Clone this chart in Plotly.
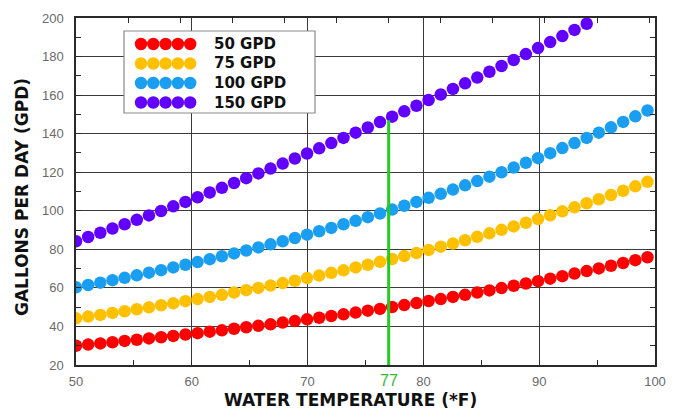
import plotly.graph_objects as go

# Water temperature (deg F) at each plotted point
temps = [50.0, 51.05, 52.1, 53.15, 54.2, 55.25, 56.3, 57.35, 58.4, 59.45,
         60.5, 61.55, 62.6, 63.65, 64.7, 65.75, 66.8, 67.85, 68.9, 69.95,
         71.0, 72.05, 73.1, 74.15, 75.2, 76.25, 77.3, 78.35, 79.4, 80.45,
         81.5, 82.55, 83.6, 84.65, 85.7, 86.75, 87.8, 88.85, 89.9, 90.95,
         92.0, 93.05, 94.1, 95.15, 96.2, 97.25, 98.3, 99.35]

gpd_50 = [30.0, 30.6, 31.2, 31.8, 32.5, 33.1, 33.8, 34.4, 35.1, 35.8,
          36.5, 37.3, 38.0, 38.8, 39.6, 40.3, 41.1, 42.0, 42.8, 43.7,
          44.5, 45.4, 46.3, 47.2, 48.2, 49.1, 50.1, 51.1, 52.1, 53.2,
          54.2, 55.3, 56.4, 57.6, 58.7, 59.9, 61.1, 62.3, 63.5, 64.8,
          66.1, 67.4, 68.7, 70.1, 71.5, 72.9, 74.4, 75.9]

gpd_75 = [44.2, 45.1, 46.0, 47.0, 47.9, 48.9, 49.9, 51.0, 52.0, 53.1,
          54.2, 55.3, 56.4, 57.6, 58.8, 60.0, 61.2, 62.5, 63.7, 65.1,
          66.4, 67.8, 69.1, 70.6, 72.0, 73.5, 75.0, 76.5, 78.1, 79.7,
          81.4, 83.0, 84.7, 86.5, 88.3, 90.1, 91.9, 93.8, 95.7, 97.7,
          99.7, 101.8, 103.9, 106.0, 108.2, 110.4, 112.7, 115.0]

gpd_100 = [60.3, 61.5, 62.7, 64.0, 65.2, 66.5, 67.9, 69.2, 70.6, 72.0,
           73.4, 74.9, 76.4, 77.9, 79.4, 81.0, 82.6, 84.2, 85.9, 87.6,
           89.4, 91.1, 93.0, 94.8, 96.7, 98.6, 100.6, 102.6, 104.6, 106.7,
           108.8, 111.0, 113.2, 115.4, 117.7, 120.0, 122.4, 124.9, 127.3, 129.9,
           132.5, 135.1, 137.8, 140.5, 143.3, 146.1, 149.0, 152.0]

gpd_150 = [84.2, 86.4, 88.6, 90.8, 93.0, 95.3, 97.6, 99.9, 102.3, 104.6,
           107.0, 109.5, 111.9, 114.4, 116.9, 119.4, 121.9, 124.5, 127.1, 129.7,
           132.4, 135.1, 137.8, 140.5, 143.2, 146.0, 148.8, 151.6, 154.5, 157.4,
           160.3, 163.2, 166.1, 169.1, 172.1, 175.1, 178.2, 181.3, 184.4, 187.5,
           190.6, 193.8, 197.0]

series_names = ["50 GPD", "75 GPD", "100 GPD", "150 GPD"]
series_values = [gpd_50, gpd_75, gpd_100, gpd_150]
series_colors = ["#ff0000", "#ffc000", "#1a9ef2", "#6200ff"]

marker_temp = [77, 77]
marker_gpd = [20, 147]

x_ticks = [50, 60, 70, 80, 90, 100]
celsius_ticks = [12.5, 15, 17.5, 20, 22.5, 25, 27.5, 30, 32.5, 35, 37.5]

W, H = 673, 411
ML, MR, MT, MB = 76, 18, 18, 46
PW, PH = W - ML - MR, H - MT - MB


def px_x(p):
    return (p - ML) / PW


def px_y(p):
    return (H - MB - p) / PH


fig = go.Figure()

for name, vals, col in zip(series_names, series_values, series_colors):
    fig.add_trace(go.Scatter(
        x=temps[:len(vals)], y=vals, mode="markers", name=name,
        marker=dict(color=col, size=12.5, line=dict(width=0)),
        showlegend=False))

fig.add_trace(go.Scatter(
    x=marker_temp, y=marker_gpd, mode="lines",
    line=dict(color="#22cc22", width=3), showlegend=False, hoverinfo="skip"))

# invisible trace to activate the top (Celsius) axis
fig.add_trace(go.Scatter(x=[None], y=[None], xaxis="x2", showlegend=False,
                         hoverinfo="skip"))

axis_col = "#2a2a2a"
grid_col = "#3a3a3a"
tick_font = dict(family="Liberation Sans, Arial, sans-serif", size=13, color="#6a6a6a")

fig.update_layout(
    width=W, height=H,
    margin=dict(l=ML, r=MR, t=MT, b=MB, autoexpand=False),
    paper_bgcolor="white", plot_bgcolor="white",
    xaxis=dict(
        range=[50, 100], tickvals=x_ticks, ticktext=[str(v) for v in x_ticks],
        showgrid=True, gridcolor=grid_col, gridwidth=1.2,
        ticks="inside", ticklen=5, tickcolor=axis_col, tickwidth=1.2,
        minor=dict(dtick=5, tick0=50, ticks="inside", ticklen=5,
                   tickcolor=axis_col, tickwidth=1.2, showgrid=False),
        showline=True, linecolor=axis_col, linewidth=1.5,
        zeroline=False, tickfont=tick_font, ticklabelstandoff=4,
        automargin=False,
    ),
    xaxis2=dict(
        overlaying="x", side="top", range=[50, 100],
        tickvals=[c * 9 / 5 + 32 for c in celsius_ticks],
        ticks="inside", ticklen=5, tickcolor=axis_col, tickwidth=1.2,
        showticklabels=False, showgrid=False, zeroline=False,
        showline=True, linecolor=axis_col, linewidth=1.5,
        automargin=False,
    ),
    yaxis=dict(
        range=[20, 200], dtick=20, tick0=20,
        showgrid=True, gridcolor=grid_col, gridwidth=1.2,
        ticks="inside", ticklen=5, tickcolor=axis_col, tickwidth=1.2,
        minor=dict(dtick=10, ticks="inside", ticklen=5,
                   tickcolor=axis_col, tickwidth=1.2, showgrid=False),
        showline=True, linecolor=axis_col, linewidth=1.5, mirror="ticks",
        zeroline=False, tickfont=tick_font, ticklabelstandoff=8,
        automargin=False,
    ),
)

# Legend box drawn by hand (five dots per entry, like the original)
shapes = [dict(type="rect", xref="paper", yref="paper",
               x0=px_x(124), x1=px_x(315), y0=px_y(113), y1=px_y(31),
               line=dict(color="#8a8a8a", width=1.2), fillcolor="white",
               layer="above")]
row_y = [44, 63.5, 83, 102.5]
annotations = []
for r, (name, col) in enumerate(zip(series_names, series_colors)):
    for j in range(5):
        shapes.append(dict(type="circle", xref="paper", yref="paper",
                           xsizemode="pixel", ysizemode="pixel",
                           xanchor=px_x(141 + 12.3 * j), yanchor=px_y(row_y[r]),
                           x0=-6.2, x1=6.2, y0=-6.2, y1=6.2,
                           fillcolor=col, line=dict(width=0), layer="above"))
    annotations.append(dict(
        xref="paper", yref="paper", x=px_x(212), y=px_y(row_y[r]),
        xanchor="left", yanchor="middle", showarrow=False, text=name,
        font=dict(family="DejaVu Sans", size=15, color="#111111", weight="bold")))

annotations.append(dict(
    xref="paper", yref="paper", x=px_x(350), y=px_y(400),
    xanchor="center", yanchor="middle", showarrow=False,
    text="WATER TEMPERATURE (*F)",
    font=dict(family="DejaVu Sans", size=17, color="#111111", weight="bold")))
annotations.append(dict(
    xref="paper", yref="paper", x=px_x(22), y=px_y(197),
    xanchor="center", yanchor="middle", showarrow=False, textangle=-90,
    text="GALLONS PER DAY (GPD)",
    font=dict(family="DejaVu Sans", size=17, color="#111111", weight="bold")))
annotations.append(dict(
    xref="x", yref="paper", x=77, y=px_y(380),
    xanchor="center", yanchor="middle", showarrow=False, text="77",
    font=dict(family="Liberation Sans, Arial, sans-serif", size=16, color="#2dbb2d")))

fig.update_layout(shapes=shapes, annotations=annotations)

fig.write_html(
    "out.html",
    config={"displayModeBar": False},
    post_script="document.body.style.margin='0';document.body.style.padding='0';"
                "document.documentElement.style.overflow='hidden';",
)
